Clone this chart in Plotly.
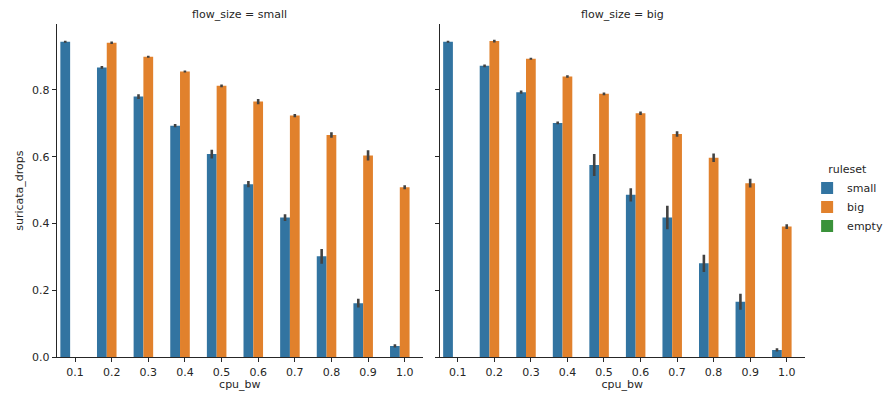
import plotly.graph_objects as go

cpu_bw = ["0.1", "0.2", "0.3", "0.4", "0.5", "0.6", "0.7", "0.8", "0.9", "1.0"]
rulesets = ["small", "big", "empty"]
colors = {"small": "#3274a1", "big": "#e1812c", "empty": "#3a923a"}

# flow_size = small
fs_small_rs_small = [0.944, 0.867, 0.780, 0.693, 0.608, 0.518, 0.418, 0.302, 0.162, 0.034]
fs_small_rs_small_err = [0.003, 0.004, 0.007, 0.005, 0.013, 0.009, 0.010, 0.022, 0.013, 0.005]
fs_small_rs_big = [None, 0.941, 0.899, 0.855, 0.812, 0.765, 0.723, 0.665, 0.604, 0.509]
fs_small_rs_big_err = [0, 0.004, 0.003, 0.003, 0.004, 0.008, 0.005, 0.008, 0.015, 0.006]

# flow_size = big
fs_big_rs_small = [0.944, 0.872, 0.793, 0.701, 0.575, 0.486, 0.418, 0.281, 0.166, 0.022]
fs_big_rs_small_err = [0.003, 0.004, 0.005, 0.004, 0.033, 0.020, 0.035, 0.026, 0.024, 0.005]
fs_big_rs_big = [None, 0.946, 0.893, 0.840, 0.788, 0.730, 0.668, 0.597, 0.521, 0.391]
fs_big_rs_big_err = [0, 0.004, 0.003, 0.004, 0.004, 0.005, 0.008, 0.013, 0.013, 0.007]

empty_vals = [None] * len(cpu_bw)

panels = [
    ("flow_size = small", fs_small_rs_small, fs_small_rs_small_err, fs_small_rs_big, fs_small_rs_big_err),
    ("flow_size = big", fs_big_rs_small, fs_big_rs_small_err, fs_big_rs_big, fs_big_rs_big_err),
]

FONT = "DejaVu Sans"
TXT = "#262626"
ERRC = "#424242"

fig = go.Figure()
for i, (title, s_vals, s_err, b_vals, b_err) in enumerate(panels):
    xa = "x" if i == 0 else "x2"
    ya = "y" if i == 0 else "y2"
    series = [("small", s_vals, s_err), ("big", b_vals, b_err), ("empty", empty_vals, None)]
    for name, vals, err in series:
        kw = {}
        if err is not None:
            kw["error_y"] = dict(type="data", array=err, visible=True, color=ERRC,
                                 thickness=2.6, width=0)
        fig.add_trace(go.Bar(
            x=cpu_bw, y=vals, name=name, marker=dict(color=colors[name], line=dict(width=0)),
            xaxis=xa, yaxis=ya, showlegend=(i == 0), legendgroup=name, **kw))

y_dom = [(393 - 357.3) / 393, (393 - 24) / 393]
axis_common = dict(showline=True, linecolor=TXT, linewidth=1, ticks="outside", ticklen=4,
                   tickcolor=TXT, tickfont=dict(family=FONT, size=11, color=TXT),
                   showgrid=False, zeroline=False, automargin=False)

fig.update_layout(
    width=885, height=393,
    margin=dict(l=0, r=0, t=0, b=0, autoexpand=False),
    paper_bgcolor="white", plot_bgcolor="white",
    barmode="group", bargap=0.2, bargroupgap=0,
    font=dict(family=FONT, size=11, color=TXT),
    xaxis=dict(domain=[56.7 / 885, 423 / 885], anchor="y", type="category",
               title=dict(text="cpu_bw", font=dict(family=FONT, size=11, color=TXT), standoff=2),
               range=[-0.5, 9.5], **axis_common),
    xaxis2=dict(domain=[439.5 / 885, 805 / 885], anchor="y2", type="category",
                title=dict(text="cpu_bw", font=dict(family=FONT, size=11, color=TXT), standoff=2),
                range=[-0.5, 9.5], **axis_common),
    yaxis=dict(domain=y_dom, anchor="x", range=[0, 0.997],
               tickvals=[0, 0.2, 0.4, 0.6, 0.8], ticktext=["0.0", "0.2", "0.4", "0.6", "0.8"],
               title=dict(text="suricata_drops", font=dict(family=FONT, size=11, color=TXT), standoff=6),
               **axis_common),
    yaxis2=dict(domain=y_dom, anchor="x2", range=[0, 0.997],
                tickvals=[0, 0.2, 0.4, 0.6, 0.8], showticklabels=False, **axis_common),
    legend=dict(title=dict(text="ruleset", side="top center",
                           font=dict(family=FONT, size=11, color=TXT)),
                x=0.912, y=0.595, xanchor="left", yanchor="top",
                font=dict(family=FONT, size=11, color=TXT), bgcolor="rgba(0,0,0,0)",
                tracegroupgap=0, itemwidth=30),
    annotations=[
        dict(text="flow_size = small", x=(56.7 + 423) / 2 / 885, y=(393 - 15) / 393,
             xref="paper", yref="paper", showarrow=False, xanchor="center", yanchor="middle",
             font=dict(family=FONT, size=11, color=TXT)),
        dict(text="flow_size = big", x=(439.5 + 805) / 2 / 885, y=(393 - 15) / 393,
             xref="paper", yref="paper", showarrow=False, xanchor="center", yanchor="middle",
             font=dict(family=FONT, size=11, color=TXT)),
    ],
)

fig.write_html("out.html", config={"displayModeBar": False},
               post_script="document.body.style.margin='0';")
